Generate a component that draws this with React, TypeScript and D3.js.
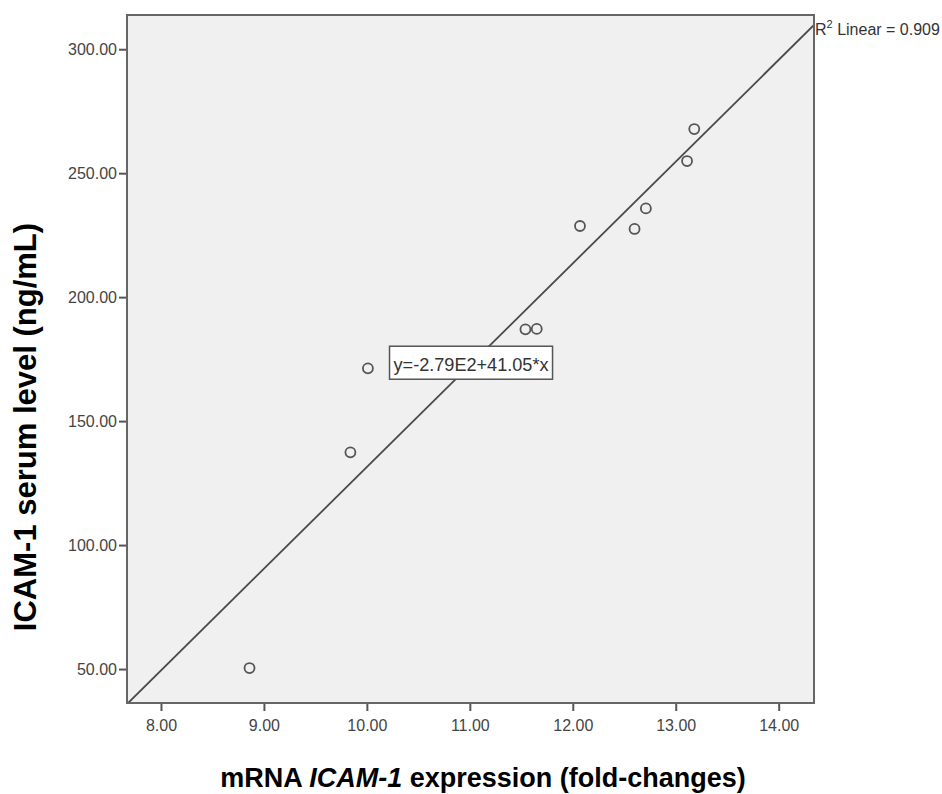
import { useEffect, useRef } from 'react';
import * as d3 from 'd3';

// mRNA ICAM-1 expression (fold-changes) vs serum ICAM-1 (ng/mL)
const foldChange = [8.86, 9.84, 10.01, 11.54, 11.65, 12.07, 12.6, 12.71, 13.11, 13.18];
const serumLevel = [50.4, 137.4, 171.3, 187.0, 187.2, 228.7, 227.5, 235.8, 254.9, 267.8];

const xTicks = [8, 9, 10, 11, 12, 13, 14];
const yTicks = [50, 100, 150, 200, 250, 300];

// fit line as printed on the chart
const intercept = -279;
const slope = 41.05;
const fitLabel = 'y=-2.79E2+41.05*x';
const rSquared = '0.909';

const W = 942;
const H = 794;

export default function App() {
  const svgRef = useRef<SVGSVGElement>(null);

  useEffect(() => {
    if (!svgRef.current) return;
    const svg = d3.select(svgRef.current);
    svg.selectAll('*').remove();

    const margin = { left: 127, right: 128, top: 15, bottom: 91 };
    const innerW = W - margin.left - margin.right;
    const innerH = H - margin.top - margin.bottom;

    const x = d3.scaleLinear().domain([7.67, 14.343]).range([0, innerW]);
    const y = d3.scaleLinear().domain([36.3, 313.8]).range([innerH, 0]);

    const g = svg.append('g').attr('transform', `translate(${margin.left},${margin.top})`);

    g.append('rect')
      .attr('width', innerW)
      .attr('height', innerH)
      .attr('fill', '#f0f0f0');

    svg.append('defs').append('clipPath').attr('id', 'plot-clip')
      .append('rect').attr('width', innerW).attr('height', innerH);

    // axes
    const xAxis = g.append('g')
      .attr('transform', `translate(0,${innerH})`)
      .call(d3.axisBottom(x).tickValues(xTicks).tickFormat(d3.format('.2f')).tickSize(8).tickPadding(9));
    const yAxis = g.append('g')
      .call(d3.axisLeft(y).tickValues(yTicks).tickFormat(d3.format('.2f')).tickSize(8).tickPadding(2));

    [xAxis, yAxis].forEach(ax => {
      ax.select('.domain').remove();
      ax.selectAll('line').attr('stroke', '#555').attr('stroke-width', 2);
      ax.selectAll('text')
        .attr('fill', '#444')
        .attr('font-family', 'Arial, "Liberation Sans", sans-serif')
        .attr('font-size', 16);
    });

    // fit line
    const [x0, x1] = x.domain();
    g.append('path')
      .datum([x0, x1])
      .attr('clip-path', 'url(#plot-clip)')
      .attr('d', d3.line<number>().x(d => x(d)).y(d => y(intercept + slope * d)))
      .attr('fill', 'none')
      .attr('stroke', '#4a4a4a')
      .attr('stroke-width', 1.8);

    // points
    g.selectAll('circle.pt')
      .data(foldChange.map((v, i) => [v, serumLevel[i]]))
      .enter().append('circle')
      .attr('class', 'pt')
      .attr('cx', d => x(d[0]))
      .attr('cy', d => y(d[1]))
      .attr('r', 5)
      .attr('fill', 'none')
      .attr('stroke', '#555')
      .attr('stroke-width', 1.8);

    // plot frame
    g.append('rect')
      .attr('width', innerW)
      .attr('height', innerH)
      .attr('fill', 'none')
      .attr('stroke', '#666')
      .attr('stroke-width', 2);

    // equation box
    const bx = x(10.22);
    const by = y(180.2);
    const box = g.append('g').attr('transform', `translate(${bx},${by})`);
    box.append('rect')
      .attr('width', 163)
      .attr('height', 33)
      .attr('fill', '#fff')
      .attr('stroke', '#555')
      .attr('stroke-width', 1.5);
    box.append('text')
      .attr('x', 4)
      .attr('y', 25)
      .attr('font-family', 'Arial, "Liberation Sans", sans-serif')
      .attr('font-size', 19)
      .attr('textLength', 155)
      .attr('lengthAdjust', 'spacingAndGlyphs')
      .attr('fill', '#333')
      .text(fitLabel);

    // R² label
    const r2 = svg.append('text')
      .attr('x', margin.left + innerW + 1)
      .attr('y', 35)
      .attr('font-family', 'Arial, "Liberation Sans", sans-serif')
      .attr('font-size', 16)
      .attr('fill', '#333');
    r2.append('tspan').text('R');
    r2.append('tspan').attr('dy', -7).attr('font-size', 11).text('2');
    r2.append('tspan').attr('dy', 7).text(` Linear = ${rSquared}`);

    // axis titles
    const xt = svg.append('text')
      .attr('x', 483)
      .attr('y', 787)
      .attr('text-anchor', 'middle')
      .attr('font-family', 'Arial, "Liberation Sans", sans-serif')
      .attr('font-weight', 'bold')
      .attr('font-size', 27)
      .attr('fill', '#000');
    xt.append('tspan').text('mRNA ');
    xt.append('tspan').attr('font-style', 'italic').text('ICAM-1');
    xt.append('tspan').text(' expression (fold-changes)');

    svg.append('text')
      .attr('transform', 'translate(36,427) rotate(-90)')
      .attr('text-anchor', 'middle')
      .attr('font-family', 'Arial, "Liberation Sans", sans-serif')
      .attr('font-weight', 'bold')
      .attr('font-size', 31)
      .attr('fill', '#000')
      .text('ICAM-1 serum level (ng/mL)');
  }, []);

  return (
    <div style={{ position: 'absolute', left: 0, top: 0, width: W, height: H, background: '#fff' }}>
      <svg ref={svgRef} width={W} height={H} style={{ display: 'block' }} />
    </div>
  );
}
